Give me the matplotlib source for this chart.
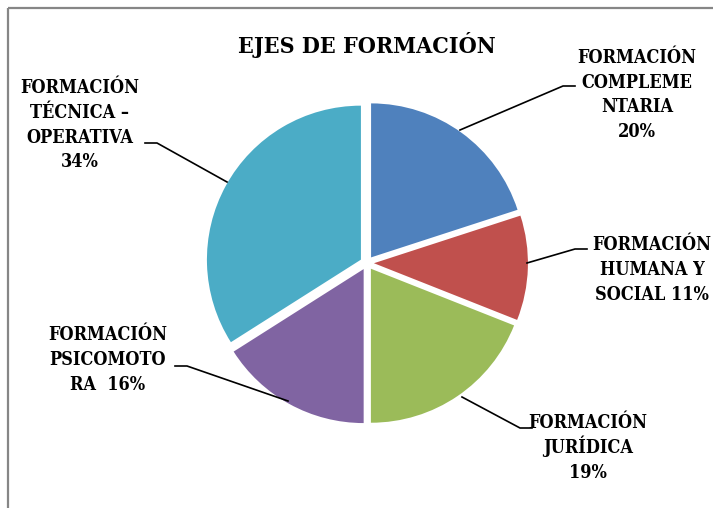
import matplotlib
matplotlib.use('Agg')
import matplotlib.pyplot as plt

# ---- data ----
categories = ["FORMACIÓN\nCOMPLEME\nNTARIA", "FORMACIÓN\nHUMANA Y\nSOCIAL", "FORMACIÓN\nJURÍDICA",
              "FORMACIÓN\nPSICOMOTO\nRA ", "FORMACIÓN\nTÉCNICA –\nOPERATIVA"]
values = [20, 11, 19, 16, 34]
pct_sep = ["\n", " ", "\n", " ", "\n"]
colors = ["#4F81BD", "#C0504D", "#9BBB59", "#8064A2", "#4BACC6"]
title = "EJES DE FORMACIÓN"

W, H = 713, 508
fig = plt.figure(figsize=(W / 100, H / 100), dpi=100)
ax = fig.add_axes([0, 0, 1, 1])

def Y(y):
    return H - y

radius = 154
explode_frac = 0.045
ax.pie(values, colors=colors, startangle=90, counterclock=False,
       explode=[explode_frac * radius] * len(values), center=(367, Y(263)), radius=radius,
       wedgeprops=dict(linewidth=0))
ax.set_xlim(0, W)
ax.set_ylim(0, H)
ax.set_aspect('equal')
ax.axis('off')

# frame (chart area border)
ax.plot([8, 8], [0, Y(8)], color="#868686", lw=1.6, solid_capstyle='butt')
ax.plot([8, W], [Y(8), Y(8)], color="#868686", lw=1.6, solid_capstyle='butt')

font = dict(family="DejaVu Serif", fontstretch="condensed", fontweight="bold")

ax.text(367, Y(53.5), title, ha="center", va="baseline", fontsize=16.7, **font)

# label layout (image pixel coords): centre x, first baseline y
label_pos = [(637, 62.7), (652, 250), (588, 428), (108, 340), (80, 93)]
line_step = 24.8
leaders = [
    [(460, 130), (563, 86), (575, 86)],
    [(527, 263), (575, 249), (587, 249)],
    [(462, 397), (520, 428), (532, 428)],
    [(288, 401), (187, 366), (175, 366)],
    [(227, 182), (157, 143), (145, 143)],
]

for cat, v, sep, (lx, ly), pts in zip(categories, values, pct_sep, label_pos, leaders):
    txt = f"{cat}{sep}{v}%"
    for i, line in enumerate(txt.split("\n")):
        ax.text(lx, Y(ly + i * line_step), line, ha="center", va="baseline",
                fontsize=13, **font)
    ax.plot([p[0] for p in pts], [Y(p[1]) for p in pts], color="black", lw=1.2)

fig.savefig("out.png", dpi=100)
